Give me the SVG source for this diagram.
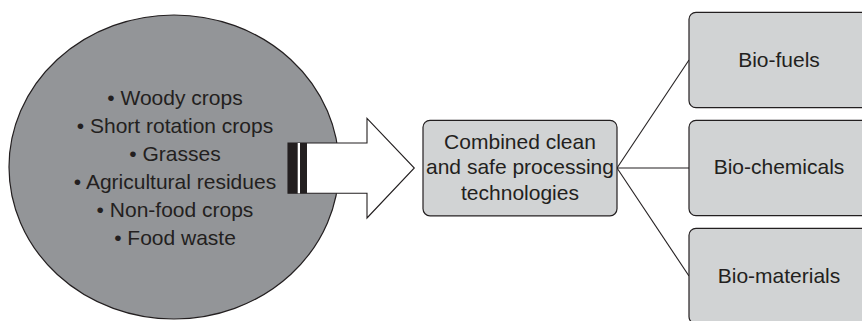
<svg xmlns="http://www.w3.org/2000/svg" width="862" height="321" viewBox="0 0 862 321">
  <style>
    .lbl { font-family: "Liberation Sans", Arial, Helvetica, sans-serif; font-size: 21px; fill: #231f20; text-anchor: middle; }
    .box { fill: #d1d3d4; stroke: #231f20; stroke-width: 1.2; }
    .link { fill: none; stroke: #231f20; stroke-width: 1.1; }
  </style>
  <rect width="862" height="321" fill="#ffffff"/>

  <!-- biomass feedstock sources -->
  <g id="feedstocks">
    <ellipse cx="174" cy="167" rx="165" ry="152" fill="#939598" stroke="#231f20" stroke-width="1.2"/>
    <text class="lbl" x="175" y="105">• Woody crops</text>
    <text class="lbl" x="175" y="133">• Short rotation crops</text>
    <text class="lbl" x="175" y="161">• Grasses</text>
    <text class="lbl" x="175" y="189">• Agricultural residues</text>
    <text class="lbl" x="175" y="217">• Non-food crops</text>
    <text class="lbl" x="175" y="245">• Food waste</text>
  </g>

  <!-- block arrow feeding the processing step -->
  <g id="feed-arrow">
    <polygon points="288,143 367,143 367,118.3 414.3,168 367,218 367,193.3 288,193.3" fill="#ffffff" stroke="#231f20" stroke-width="1.1" stroke-linejoin="miter"/>
    <rect x="288" y="143" width="19" height="50.3" fill="#231f20"/>
    <rect x="297.7" y="143" width="2.3" height="50.3" fill="#ffffff"/>
  </g>

  <!-- connectors -->
  <g id="connectors">
    <line class="link" x1="617" y1="168" x2="689" y2="60"/>
    <line class="link" x1="617" y1="168" x2="689" y2="168"/>
    <line class="link" x1="617" y1="168" x2="689" y2="276"/>
  </g>

  <g id="processing">
    <rect class="box" x="423" y="120.3" width="194" height="95.5" rx="7" ry="7"/>
    <text class="lbl" x="520" y="148.5">Combined clean</text>
    <text class="lbl" x="520" y="174">and safe processing</text>
    <text class="lbl" x="520" y="199.5">technologies</text>
  </g>

  <g id="biofuels">
    <rect class="box" x="689" y="12.3" width="200" height="95.4" rx="7" ry="7"/>
    <text class="lbl" x="779" y="66.7">Bio-fuels</text>
  </g>

  <g id="biochemicals">
    <rect class="box" x="689" y="120.3" width="200" height="95.4" rx="7" ry="7"/>
    <text class="lbl" x="779" y="174.3">Bio-chemicals</text>
  </g>

  <g id="biomaterials">
    <rect class="box" x="689" y="228.3" width="200" height="95.4" rx="7" ry="7"/>
    <text class="lbl" x="779" y="282.7">Bio-materials</text>
  </g>
</svg>
